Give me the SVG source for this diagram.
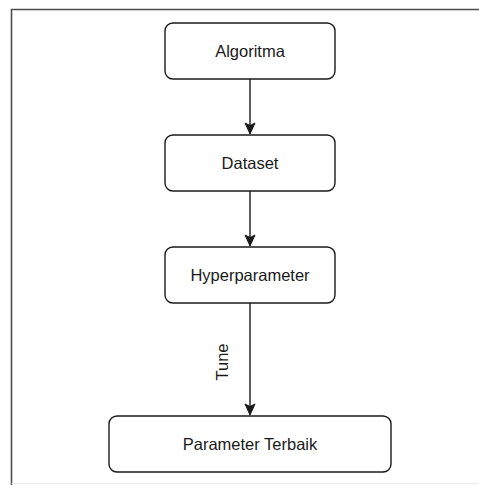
<svg xmlns="http://www.w3.org/2000/svg" width="479" height="485" viewBox="0 0 479 485">
  <style>
    .node rect { fill: #ffffff; stroke: #1a1a1a; stroke-width: 1.4; }
    .node text, .label { font-family: "Liberation Sans", Arial, sans-serif; font-size: 16.5px; fill: #1a1a1a; text-anchor: middle; }
    .edge { stroke: #1a1a1a; stroke-width: 1.4; fill: none; }
    .arrowhead { fill: #1a1a1a; stroke: #1a1a1a; stroke-width: 1; stroke-linejoin: miter; }
  </style>
  <defs>
    <!-- classic arrowhead, tip at the origin, pointing along +x -->
    <marker id="arrow" viewBox="-13 -7 14 14" markerWidth="14" markerHeight="14" refX="0" refY="0" orient="auto" markerUnits="userSpaceOnUse">
      <path class="arrowhead" d="M0,0 L-11,-5 L-8.5,0 L-11,5 Z"/>
    </marker>
  </defs>

  <rect width="479" height="485" fill="#ffffff"/>
  <!-- frame -->
  <path d="M11.5,485 L11.5,9.5 L479,9.5" fill="none" stroke="#4d4d4d" stroke-width="1.6"/>
  <path d="M11.5,483.5 L479,483.5" fill="none" stroke="#ececec" stroke-width="1"/>

  <g id="connectors">
    <line class="edge" x1="250" y1="79" x2="250" y2="134" marker-end="url(#arrow)"/>
    <line class="edge" x1="250" y1="191" x2="250" y2="246" marker-end="url(#arrow)"/>
    <line class="edge" x1="250" y1="303" x2="250" y2="415" marker-end="url(#arrow)"/>
    <text class="label" transform="translate(227.5,362) rotate(-90)" x="0" y="0">Tune</text>
  </g>

  <g id="algoritma" class="node">
    <rect x="165" y="23" width="170" height="56" rx="8" ry="8"/>
    <text x="250" y="57">Algoritma</text>
  </g>
  <g id="dataset" class="node">
    <rect x="165" y="135" width="170" height="56" rx="8" ry="8"/>
    <text x="250" y="169">Dataset</text>
  </g>
  <g id="hyperparameter" class="node">
    <rect x="165" y="247" width="170" height="56" rx="8" ry="8"/>
    <text x="250" y="281">Hyperparameter</text>
  </g>
  <g id="parameter-terbaik" class="node">
    <rect x="109" y="416" width="282" height="56" rx="8" ry="8"/>
    <text x="250" y="450">Parameter Terbaik</text>
  </g>
</svg>
